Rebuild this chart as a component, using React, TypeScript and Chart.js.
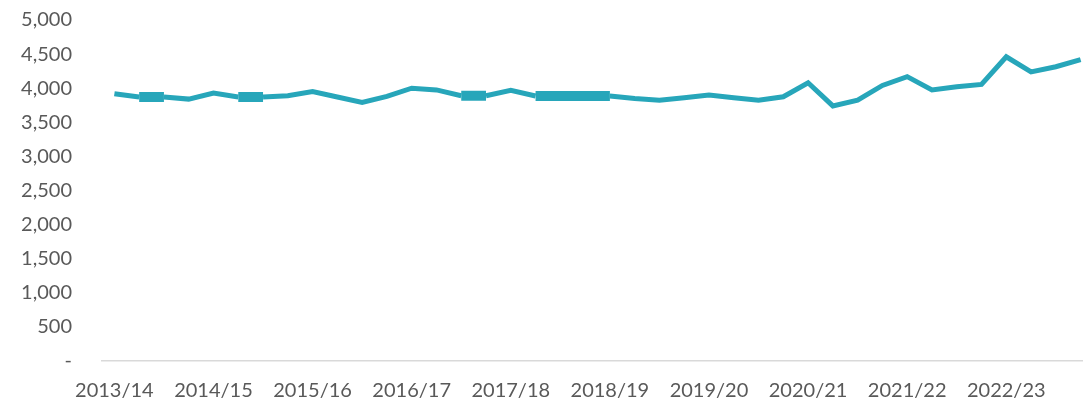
import React, { useEffect, useRef } from "react";
import { Chart, registerables } from "chart.js";

Chart.register(...registerables);

const years = ["2013/14","2014/15","2015/16","2016/17","2017/18","2018/19","2019/20","2020/21","2021/22","2022/23"];
const quarters = ["Q1","Q2","Q3","Q4"];
const values = [
  3920, 3870, 3870, 3840, 3930, 3870, 3870, 3890,
  3950, 3870, 3790, 3880, 4000, 3975, 3890, 3890,
  3970, 3885, 3885, 3885, 3885, 3850, 3825, 3860,
  3900, 3860, 3825, 3875, 4080, 3740, 3825, 4040,
  4170, 3975, 4020, 4055, 4460, 4240, 4315, 4420,
];
const labels = years.flatMap((y) => quarters.map((q) => `${y} ${q}`));

const FONT = "Lato, 'Open Sans', sans-serif";

export default function App() {
  const ref = useRef<HTMLCanvasElement>(null);
  useEffect(() => {
    document.body.style.margin = "0";
    const chart = new Chart(ref.current!, {
      type: "line",
      data: {
        labels,
        datasets: [
          {
            data: values,
            borderColor: "#27A6BA",
            borderWidth: 5,
            pointRadius: 0,
            tension: 0,
            fill: false,
            segment: {
              borderWidth: (ctx: any) => (ctx.p0.parsed.y === ctx.p1.parsed.y ? 10 : 5),
            },
          },
        ],
      },
      options: {
        animation: false,
        responsive: false,
        maintainAspectRatio: false,
        layout: { padding: { top: 20, left: 0, right: 0, bottom: 0 } },
        plugins: { legend: { display: false }, tooltip: { enabled: false } },
        scales: {
          x: {
            offset: true,
            grid: { display: false, drawTicks: false },
            border: { display: true, color: "#d9d9d9", width: 1.5 },
            ticks: {
              autoSkip: false,
              maxRotation: 0,
              padding: 18,
              color: "#595959",
              font: { family: FONT, size: 20 },
              callback: (_v: any, i: number) => (i % 4 === 0 ? years[i / 4] : ""),
            },
            afterFit: (s: any) => { s.height = 44; s.paddingLeft = 0; s.paddingRight = 0; },
          },
          y: {
            min: 0,
            max: 5000,
            grid: { display: false, drawTicks: false },
            border: { display: false },
            ticks: {
              stepSize: 500,
              padding: 30,
              color: "#595959",
              font: { family: FONT, size: 20 },
              callback: (v: any) => (v === 0 ? "-" : Number(v).toLocaleString("en-US")),
            },
            afterFit: (s: any) => { s.width = 102; s.paddingTop = 0; s.paddingBottom = 0; },
          },
        },
      },
    });
    return () => chart.destroy();
  }, []);
  return (
    <div style={{ position: "fixed", left: 0, top: 0, width: 1083, height: 405, overflow: "hidden", background: "#fff" }}>
      <canvas ref={ref} width={1093} height={405} style={{ display: "block" }} />
    </div>
  );
}
